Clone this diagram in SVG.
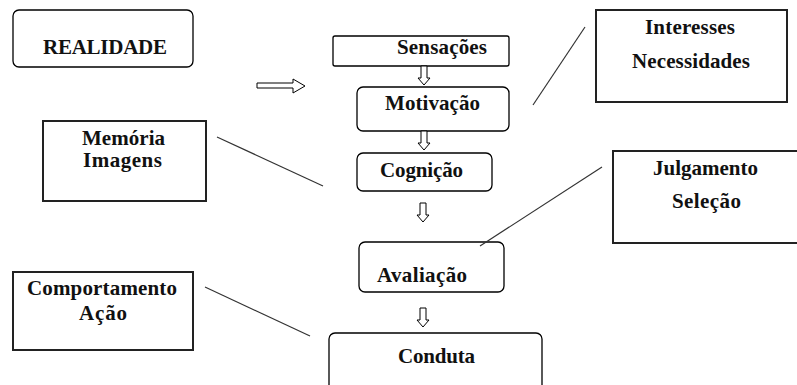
<svg xmlns="http://www.w3.org/2000/svg" width="797" height="385" viewBox="0 0 797 385">
<defs>
<style>
.rb{fill:#fff;stroke:#000;stroke-width:1.3}
.sb{fill:#fff;stroke:#222;stroke-width:2}
.t{font-family:"Liberation Serif","Times New Roman",serif;font-weight:bold;font-size:21px;fill:#111}
.ln{stroke:#333;stroke-width:1.2;fill:none}
.ar{fill:#fff;stroke:#000;stroke-width:1}
</style>
<path id="down" class="ar" d="M-3,0 H3 V12 H6 L0,19 L-6,12 H-3 Z"/>
</defs>
<rect width="797" height="385" fill="#fff"/>
<g id="realidade">
<rect class="rb" x="13" y="10" width="180" height="57" rx="6"/>
<text class="t" x="43" y="54" textLength="124" lengthAdjust="spacing">REALIDADE</text>
</g>
<g id="sensacoes">
<rect class="rb" x="333" y="36" width="176" height="30" rx="2"/>
<text class="t" x="397" y="54" textLength="90" lengthAdjust="spacing">Sensações</text>
</g>
<g id="motivacao">
<rect class="rb" x="357" y="87" width="152" height="44" rx="6"/>
<text class="t" x="385" y="110" textLength="95" lengthAdjust="spacing">Motivação</text>
</g>
<g id="cognicao">
<rect class="rb" x="357" y="153" width="135" height="38" rx="6"/>
<text class="t" x="380" y="177" textLength="83" lengthAdjust="spacing">Cognição</text>
</g>
<g id="avaliacao">
<rect class="rb" x="359" y="242" width="145" height="50" rx="6"/>
<text class="t" x="377" y="282" textLength="90" lengthAdjust="spacing">Avaliação</text>
</g>
<g id="conduta">
<rect class="rb" x="329" y="333" width="213" height="60" rx="6"/>
<text class="t" x="398" y="363" textLength="77" lengthAdjust="spacing">Conduta</text>
</g>
<g id="interesses">
<rect class="sb" x="596" y="10" width="191" height="92"/>
<text class="t" x="645" y="34" textLength="90" lengthAdjust="spacing">Interesses</text>
<text class="t" x="632" y="68" textLength="118" lengthAdjust="spacing">Necessidades</text>
</g>
<g id="memoria">
<rect class="sb" x="43" y="121" width="163" height="80"/>
<text class="t" x="82" y="145" textLength="83" lengthAdjust="spacing">Memória</text>
<text class="t" x="83" y="167" textLength="79" lengthAdjust="spacing">Imagens</text>
</g>
<g id="julgamento">
<rect class="sb" x="613" y="151" width="190" height="92"/>
<text class="t" x="653" y="175" textLength="105" lengthAdjust="spacing">Julgamento</text>
<text class="t" x="672" y="208" textLength="69" lengthAdjust="spacing">Seleção</text>
</g>
<g id="comportamento">
<rect class="sb" x="13" y="272" width="180" height="78"/>
<text class="t" x="27" y="295" textLength="150" lengthAdjust="spacing">Comportamento</text>
<text class="t" x="79" y="320" textLength="48" lengthAdjust="spacing">Ação</text>
</g>
<g id="connectors">
<path class="ar" d="M257,83 H293 V79 L305,86 L293,93 V88 H257 Z"/>
<use href="#down" x="424" y="66"/>
<use href="#down" x="424" y="131"/>
<use href="#down" x="423" y="203"/>
<use href="#down" x="423" y="308"/>
<line class="ln" x1="585" y1="27" x2="533" y2="105"/>
<line class="ln" x1="217" y1="137" x2="323" y2="186"/>
<line class="ln" x1="602" y1="167" x2="480" y2="246"/>
<line class="ln" x1="205" y1="287" x2="310" y2="336"/>
</g>
</svg>
